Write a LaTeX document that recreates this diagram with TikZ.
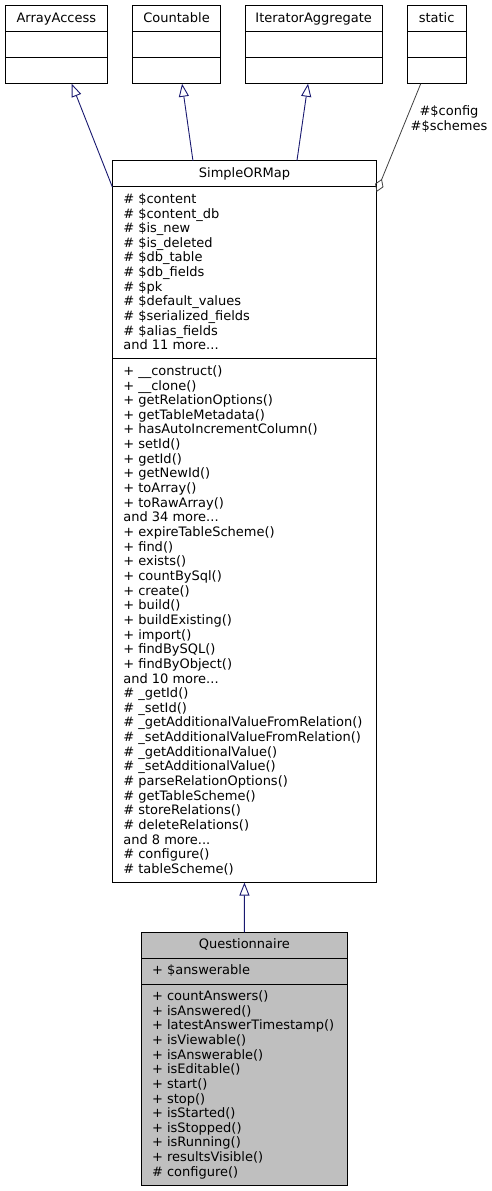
\documentclass[tikz,border=0pt]{standalone}
\usepackage{fontspec}
\setmainfont{DejaVu Sans}
\usepackage{xcolor}
\usepackage{tikz}
\usetikzlibrary{arrows.meta}
\usetikzlibrary{shapes.multipart}
\usetikzlibrary{positioning}

\definecolor{edgeblue}{HTML}{191970}
\definecolor{edgegray}{HTML}{404040}
\definecolor{classfill}{HTML}{BFBFBF}

% one part of a class box: fixed width, first baseline 16pt below the top
\newcommand{\classtitle}[2]{\parbox{#1}{\centering\rule{0pt}{16pt}#2\rule[-9.3pt]{0pt}{9.3pt}}}
\newcommand{\classlines}[2]{\parbox{#1}{\raggedright\leftskip=11pt\rule{0pt}{16pt}#2\rule[-8.6pt]{0pt}{8.6pt}}}
\newcommand{\emptypart}{\rule{0pt}{25pt}}

\tikzset{
  umlclass/.style={draw=black, line width=0.9pt, fill=white, rectangle split, rectangle split parts=3,
    inner sep=0pt, outer sep=0pt, anchor=north west, font=\fontsize{13}{14.65}\selectfont},
  inherit/.style={draw=edgeblue, line width=0.9pt, -{Triangle[open,length=13pt,width=10pt]}},
  aggr/.style={draw=edgegray, line width=0.8pt, {Diamond[open,length=14pt,width=9pt]}-},
}

\begin{document}
\begin{tikzpicture}[x=1pt,y=-1pt]
    \useasboundingbox (0,0) rectangle (491,1191);
    % interfaces
    \node[umlclass] (arrayaccess) at (5,5.7) {\classtitle{102.7pt}{ArrayAccess}\nodepart{two}\emptypart\nodepart{three}\emptypart};
    \node[umlclass] (countable) at (132.7,5.7) {\classtitle{87.7pt}{Countable}\nodepart{two}\emptypart\nodepart{three}\emptypart};
    \node[umlclass] (iteratoragg) at (245,5.7) {\classtitle{137.3pt}{IteratorAggregate}\nodepart{two}\emptypart\nodepart{three}\emptypart};
    \node[umlclass] (static) at (407.3,5.7) {\classtitle{58.7pt}{static}\nodepart{two}\emptypart\nodepart{three}\emptypart};
    % base class
    \node[umlclass] (sorm) at (112.3,160.7) {\classtitle{264.3pt}{SimpleORMap}
        \nodepart{two}\classlines{264.3pt}{\# \$content\\\# \$content\_db\\\# \$is\_new\\\# \$is\_deleted\\\# \$db\_table\\\# \$db\_fields\\\# \$pk\\\# \$default\_values\\\# \$serialized\_fields\\\# \$alias\_fields\\and 11 more...}
        \nodepart{three}\classlines{264.3pt}{+ \_\_construct()\\+ \_\_clone()\\+ getRelationOptions()\\+ getTableMetadata()\\+ hasAutoIncrementColumn()\\+ setId()\\+ getId()\\+ getNewId()\\+ toArray()\\+ toRawArray()\\and 34 more...\\+ expireTableScheme()\\+ find()\\+ exists()\\+ countBySql()\\+ create()\\+ build()\\+ buildExisting()\\+ import()\\+ findBySQL()\\+ findByObject()\\and 10 more...\\\# \_getId()\\\# \_setId()\\\# \_getAdditionalValueFromRelation()\\\# \_setAdditionalValueFromRelation()\\\# \_getAdditionalValue()\\\# \_setAdditionalValue()\\\# parseRelationOptions()\\\# getTableScheme()\\\# storeRelations()\\\# deleteRelations()\\and 8 more...\\\# configure()\\\# tableScheme()}};
    % the class itself
    \node[umlclass, fill=classfill] (questionnaire) at (141,932.3) {\classtitle{206.7pt}{Questionnaire}
        \nodepart{two}\classlines{206.7pt}{+ \$answerable}
        \nodepart{three}\classlines{206.7pt}{+ countAnswers()\\+ isAnswered()\\+ latestAnswerTimestamp()\\+ isViewable()\\+ isAnswerable()\\+ isEditable()\\+ start()\\+ stop()\\+ isStarted()\\+ isStopped()\\+ isRunning()\\+ resultsVisible()\\\# configure()}};
    % edges
    \draw[inherit] (sorm.text split west) -- (arrayaccess);
    \draw[inherit] ([xshift=-51.5pt]sorm.north) -- (countable);
    \draw[inherit] ([xshift=52.5pt]sorm.north) -- (iteratoragg);
    \draw[inherit] (questionnaire.north) -- (sorm.south);
    \draw[aggr] ([yshift=-5pt]sorm.text split east) -- (static);
    \node[text=black, align=center, font=\fontsize{13}{14.65}\selectfont] (schemelabel) at (449,119) {\#\$config\\\#\$schemes};
\end{tikzpicture}
\end{document}
